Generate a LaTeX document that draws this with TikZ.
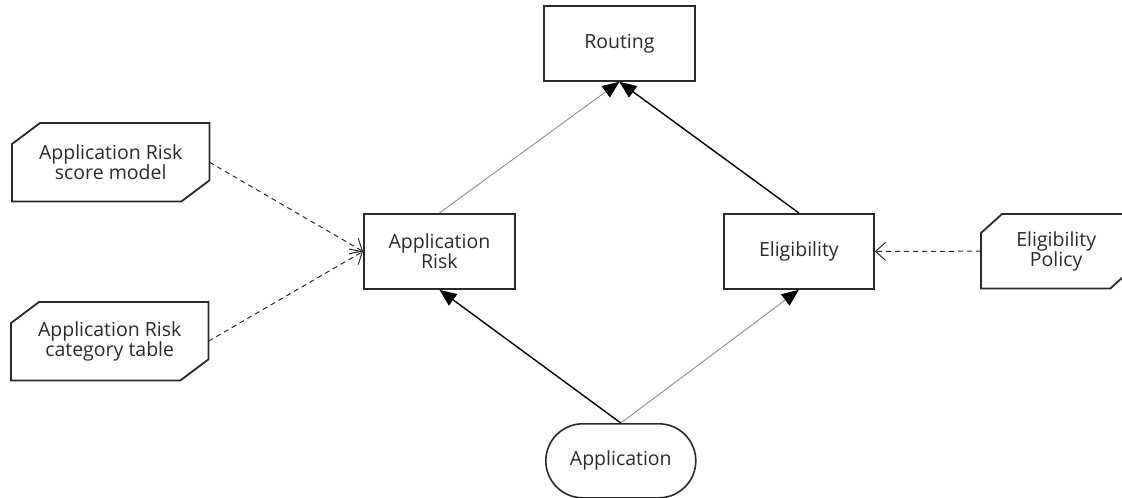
\documentclass[tikz,border=0pt]{standalone}
\usepackage{fontspec}
\setmainfont{Open Sans}
\usetikzlibrary{calc,arrows.meta}
\definecolor{inkgray}{HTML}{2A2A2A}
\definecolor{linegray}{HTML}{8E8E8E}
\tikzstyle{decision} = [rectangle, draw=inkgray, line width=1.8pt, minimum height=75pt, minimum width=151pt, align=center, text=inkgray]
\tikzstyle{source} = [rectangle, minimum height=78pt, minimum width=197pt, align=center, text=inkgray]
\tikzstyle{inputdata} = [rectangle, draw=inkgray, line width=1.6pt, rounded corners=37pt, minimum height=74pt, minimum width=150pt, align=center, text=inkgray]
\tikzstyle{outline} = [draw=inkgray, line width=1.8pt, line join=miter]
\tikzstyle{reqdark} = [draw=black, line width=1.4pt, -{Triangle[length=17pt,width=14pt]}]
\tikzstyle{reqlight} = [draw=linegray, line width=0.9pt, -{Triangle[length=17pt,width=14pt,color=black]}]
\tikzstyle{authority} = [draw=inkgray, line width=1pt, dash pattern=on 5pt off 4pt, -{Straight Barb[length=10pt,width=18pt,line width=1pt]}]

\begin{document}
\begin{tikzpicture}[x=1pt, y=-1pt, font=\fontsize{19.5}{17.5}\selectfont]
                \useasboundingbox (0,0) rectangle (1122,498);

                \node (routing) [decision, anchor=north west] at (543,5) {Routing};
                \node (apprisk) [decision, anchor=north west] at (363,213) {Application\\Risk};
                \node (eligibility) [decision, anchor=north west, minimum width=150pt] at (723,213) {Eligibility};
                \node (application) [inputdata, anchor=north west] at (545,423) {Application};

                \node (scoremodel) [source, anchor=north west] at (12,123) {Application Risk\\score model};
                \node (categorytable) [source, anchor=north west] at (11,302) {Application Risk\\category table};
                \node (policy) [source, anchor=north west, minimum width=150pt, minimum height=74pt] at (981,214) {Eligibility\\Policy};

                % knowledge sources with cut corners
                \draw[outline] ($(scoremodel.north west)+(28,0)$) -- (scoremodel.north east) -- ($(scoremodel.south east)+(0,-21)$) -- ($(scoremodel.south east)+(-28,0)$) -- (scoremodel.south west) -- ($(scoremodel.north west)+(0,21)$) -- cycle;
                \draw[outline] ($(categorytable.north west)+(28,0)$) -- (categorytable.north east) -- ($(categorytable.south east)+(0,-21)$) -- ($(categorytable.south east)+(-28,0)$) -- (categorytable.south west) -- ($(categorytable.north west)+(0,21)$) -- cycle;
                \draw[outline] ($(policy.north west)+(21,0)$) -- (policy.north east) -- ($(policy.south east)+(0,-19)$) -- ($(policy.south east)+(-21,0)$) -- (policy.south west) -- ($(policy.north west)+(0,19)$) -- cycle;

                \draw[reqdark] (application.north) -- (apprisk.south);
                \draw[reqlight] (application.north) -- (eligibility.south);
                \draw[reqlight] (apprisk.north) -- (routing.south);
                \draw[reqdark] (eligibility.north) -- (routing.south);

                \draw[authority] (scoremodel.east) -- (apprisk.west);
                \draw[authority] (categorytable.east) -- (apprisk.west);
                \draw[authority] (policy.west) -- (eligibility.east);
            \end{tikzpicture}
\end{document}
